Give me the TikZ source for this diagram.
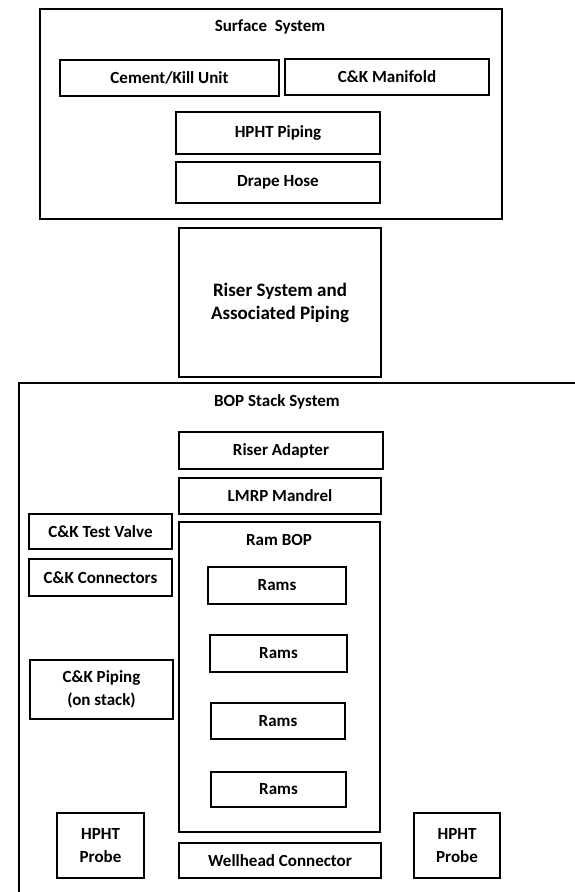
\documentclass[tikz,border=0pt]{standalone}
\usepackage{fontspec}
\setmainfont{Carlito}
\begin{document}
\begin{tikzpicture}[x=1pt,y=-1pt,
  box/.style={draw, line width=2.6pt, inner sep=0pt, align=center,
    font=\bfseries\fontsize{17}{23}\selectfont},
  heading/.style={inner sep=0pt, font=\bfseries\fontsize{17}{23}\selectfont}]
\useasboundingbox (0,0) rectangle (575,892);
% box given by its corners: name, x1, y1, x2, y2, text
\newcommand\cornerbox[6]{%
  \node[box, minimum width={#4-#2}, minimum height={#5-#3}]
    (#1) at ({(#2+#4)/2},{(#3+#5)/2}) {#6};}

% surface system
\cornerbox{surface}{40}{9}{502}{219}{}
\node[heading] (surfacetitle) at (270,27) {Surface\ \ System};
\cornerbox{cementkill}{60}{60}{279}{96}{Cement/Kill Unit}
\cornerbox{ckmanifold}{285}{59}{489}{95}{C\&K Manifold}
\cornerbox{hphtpiping}{176}{112}{380}{154}{HPHT Piping}
\cornerbox{drapehose}{176}{162}{380}{203}{Drape Hose}

% riser
\cornerbox{riser}{179}{228}{381}{377}{\fontsize{19}{23}\selectfont Riser System and\\\fontsize{19}{23}\selectfont Associated Piping}

% BOP stack system (frame runs past the page on the right and bottom)
\coordinate (bopbl) at (19,900);
\coordinate (boptl) at (19,383);
\coordinate (boptr) at (580,383);
\draw[line width=2.6pt] (bopbl) -- (boptl) -- (boptr);
\node[heading] (boptitle) at (277,402) {BOP Stack System};

\cornerbox{riseradapter}{179}{432}{383}{469}{Riser Adapter}
\cornerbox{lmrp}{179}{478}{381}{514}{LMRP Mandrel}
\cornerbox{rambop}{179}{522}{380}{832}{}
\node[heading] (rambottitle) at (279,540) {Ram BOP};
\cornerbox{rams1}{208}{567}{346}{604}{Rams}
\cornerbox{rams2}{210}{635}{347}{672}{Rams}
\cornerbox{rams3}{211}{703}{345}{739}{Rams}
\cornerbox{rams4}{211}{772}{346}{807}{Rams}

\cornerbox{testvalve}{29}{514}{172}{549}{C\&K Test Valve}
\cornerbox{connectors}{29}{559}{172}{596}{C\&K Connectors}
\cornerbox{ckpiping}{30}{660}{173}{719}{C\&K Piping\\(on stack)}

\cornerbox{probeleft}{57}{813}{144}{878}{HPHT\\Probe}
\cornerbox{wellhead}{179}{843}{381}{878}{Wellhead Connector}
\cornerbox{proberight}{414}{813}{500}{878}{HPHT\\Probe}
\end{tikzpicture}
\end{document}
